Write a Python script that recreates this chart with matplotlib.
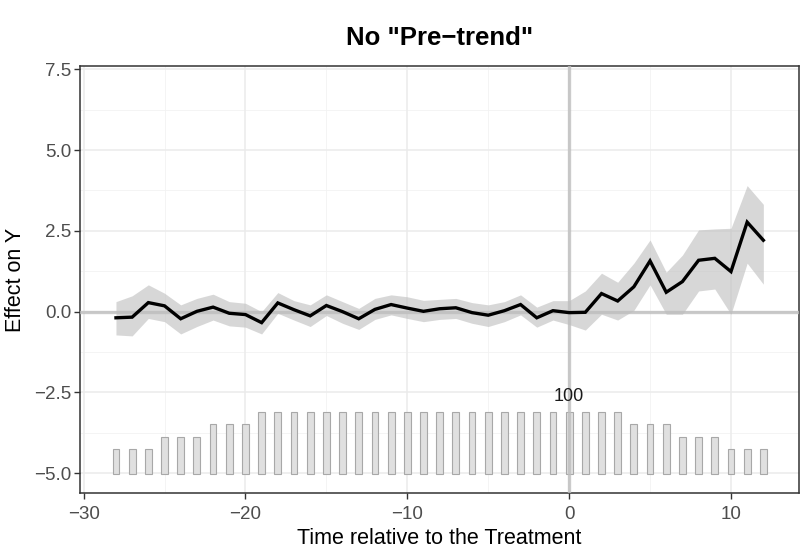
import matplotlib
matplotlib.use("Agg")
import matplotlib.pyplot as plt
import numpy as np

plt.rcParams['font.family'] = ['Liberation Sans', 'DejaVu Sans']

time = list(range(-28, 13))
effect = [-0.19, -0.17, 0.28, 0.18, -0.22, 0.01, 0.14, -0.05, -0.09, -0.34,
          0.27, 0.06, -0.13, 0.19, 0.0, -0.22, 0.07, 0.22, 0.11, 0.01,
          0.09, 0.12, -0.03, -0.11, 0.03, 0.22, -0.19, 0.03, -0.03, -0.02,
          0.56, 0.33, 0.77, 1.57, 0.60, 0.93, 1.59, 1.65, 1.24, 2.77, 2.21]
upper = [0.31, 0.49, 0.83, 0.57, 0.21, 0.41, 0.54, 0.31, 0.26, 0.0,
         0.59, 0.34, 0.21, 0.52, 0.31, 0.10, 0.41, 0.52, 0.46, 0.35,
         0.38, 0.41, 0.28, 0.21, 0.31, 0.52, 0.14, 0.34, 0.34, 0.64,
         1.19, 0.91, 1.50, 2.22, 1.22, 1.75, 2.53, 2.56, 2.58, 3.90, 3.32]
lower = [-0.72, -0.75, -0.21, -0.31, -0.69, -0.46, -0.26, -0.44, -0.48, -0.69,
         -0.05, -0.26, -0.46, -0.12, -0.36, -0.55, -0.24, -0.10, -0.21, -0.31,
         -0.24, -0.21, -0.36, -0.46, -0.31, -0.10, -0.48, -0.26, -0.40, -0.57,
         -0.08, -0.26, 0.04, 0.83, -0.08, -0.08, 0.64, 0.70, -0.08, 1.50, 0.85]
counts = [40, 40, 40, 60, 60, 60, 80, 80, 80] + [100] * 23 + [80, 80, 80, 60, 60, 60, 40, 40, 40]

xticks = [-30, -20, -10, 0, 10]
yticks = [-5.0, -2.5, 0.0, 2.5, 5.0, 7.5]
title = 'No "Pre\u2212trend"'
xlabel = "Time relative to the Treatment"
ylabel = "Effect on Y"

bar_base = -5.03
bar_scale = 1.94 / 100

fig = plt.figure(figsize=(8.02, 5.55), dpi=100)
ax = fig.add_axes([0.0998, 0.1112, 0.9966 - 0.0998, 0.8816 - 0.1112])

# minor grid
for v in np.arange(-25, 15, 10):
    ax.axvline(v, color='#f2f2f2', lw=0.6, zorder=0)
for v in np.arange(-3.75, 7.6, 2.5):
    ax.axhline(v, color='#f2f2f2', lw=0.6, zorder=0)
ax.set_xticks(xticks)
ax.set_yticks(yticks)
ax.grid(True, color='#ebebeb', lw=1.1, zorder=0)
ax.set_axisbelow(True)

# bars
heights = [c * bar_scale for c in counts]
ax.bar(time, heights, bottom=bar_base, width=0.42, color='#e0e0e0',
       edgecolor='#a8a8a8', linewidth=0.8, zorder=2)
ax.text(0, -2.61, str(max(counts)), ha='center', va='center', fontsize=13,
        color='#1a1a1a', zorder=5)

# reference lines
ax.axhline(0, color='#bebebe', lw=2.4, alpha=0.8, zorder=3)
ax.axvline(0, color='#bebebe', lw=2.4, alpha=0.8, zorder=3)

# ribbon and line
ax.fill_between(time, lower, upper, color='#bdbdbd', alpha=0.6, lw=0, zorder=3)
ax.plot(time, effect, color='black', lw=2.4, zorder=4, solid_joinstyle='miter')

ax.set_xlim(-30.22, 14.22)
ax.set_ylim(-5.62, 7.61)
ax.set_xticklabels([f"{t}".replace('-', '\u2212') for t in xticks])
ax.set_yticklabels([f"{t:.1f}".replace('-', '\u2212') for t in yticks])

for s in ax.spines.values():
    s.set_color('#333333')
    s.set_linewidth(1.1)
ax.tick_params(axis='both', colors='#333333', length=4, width=1.0,
               labelsize=13.5, labelcolor='#4d4d4d', pad=2)
ax.tick_params(axis='x', pad=5)

ax.set_xlabel(xlabel, fontsize=15.5, color='black', labelpad=4)
ax.set_ylabel(ylabel, fontsize=15.5, color='black', labelpad=6)
ax.set_title(title, fontsize=18.5, fontweight='bold', pad=15)

fig.savefig("out.png", dpi=100)
